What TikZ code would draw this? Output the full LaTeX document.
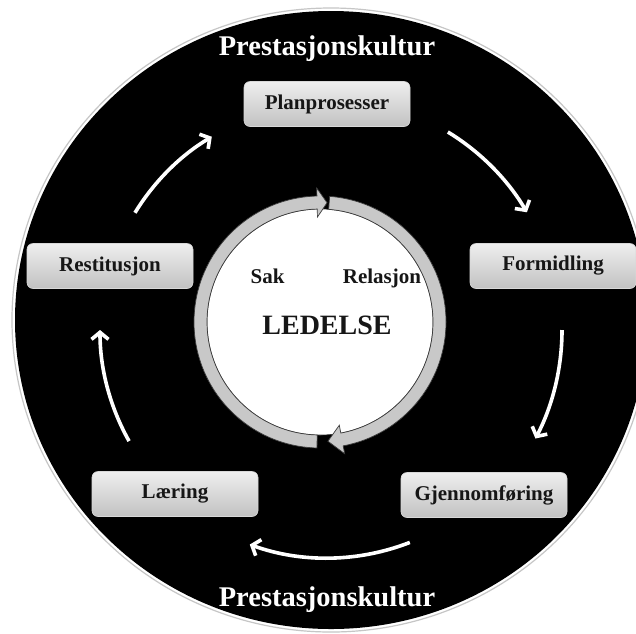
\documentclass[tikz,border=0pt]{standalone}
\usepackage{fontspec}
\setmainfont{Liberation Serif}
\usetikzlibrary{arrows.meta}
\definecolor{boxtop}{HTML}{EEEEEE}
\definecolor{boxbot}{HTML}{C2C2C2}
\definecolor{boxline}{HTML}{D8D8D8}
\definecolor{ringfill}{HTML}{C8C8C8}
\definecolor{ringline}{HTML}{3C3C3C}
\definecolor{labeltext}{HTML}{161616}
\begin{document}
\begin{tikzpicture}[x=1pt,y=-1pt,
  stage/.style={rectangle, rounded corners=6pt, minimum width=166pt, minimum height=45pt,
    top color=boxtop, bottom color=boxbot, draw=boxline, line width=0.6pt,
    text=labeltext, font=\fontsize{21}{24}\selectfont\bfseries, inner sep=0pt},
  culture/.style={text=white, font=\fontsize{28.5}{32}\selectfont\bfseries, inner sep=0pt, anchor=base},
  cycle arrow/.style={draw=white, line width=3.6pt, -{Straight Barb[length=7pt,width=17pt]}},
  ring half/.style={fill=ringfill, draw=ringline, line width=0.7pt, line join=miter},
  inner label/.style={text=labeltext, font=\fontsize{21}{24}\selectfont\bfseries, anchor=base, inner sep=0pt}
]
\useasboundingbox (0,0) rectangle (636,633);
\fill[white] (0,0) rectangle (636,633);

% black backdrop with a faint rim
\begin{scope}
  \clip (0,0) rectangle (636,633);
  \draw[gray!45, line width=1.2pt] (331,320) ellipse[x radius=319, y radius=312];
  \fill[black] (331,320) ellipse[x radius=316, y radius=309];
\end{scope}

% central ring made of two curved arrows
\begin{scope}[shift={(320,322)}]
  \filldraw[fill=white, draw=ringline, line width=0.6pt] (0,0) circle[radius=113];
  \draw[ring half] (91.4:126) arc[start angle=91.4, end angle=268.6, radius=126]
    -- (268.6:134) -- (273.4:119.5) -- (268.6:105) -- (268.6:113)
    arc[start angle=268.6, end angle=91.4, radius=113] -- cycle;
  \draw[ring half] (274.4:126) arc[start angle=274.4, end angle=439.4, radius=126]
    -- (439.4:134) -- (446.2:119.5) -- (439.4:105) -- (439.4:113)
    arc[start angle=439.4, end angle=274.4, radius=113] -- cycle;
\end{scope}

\node[inner label] (sak) at (267.5,283) {Sak};
\node[inner label] (rel) at (382,283) {Relasjon};
\node[inner label, font=\fontsize{28}{32}\selectfont\bfseries] (led) at (327,334) {LEDELSE};

% stages of the cycle
\node[stage] (plan) at (327,104) {Planprosesser};
\node[stage] (form) at (553,266) {Formidling};
\node[stage] (gjen) at (484,495) {Gjennomføring};
\node[stage] (laer) at (175,494) {Læring};
\node[stage] (rest) at (110,266) {Restitusjon};

% white arrows between the stages
\begin{scope}[shift={(327,330)}]
  \coordinate (a1) at (211.4:225);
  \coordinate (a2) at (301.4:232);
  \coordinate (a3) at (0:235);
  \coordinate (a4) at (68.7:228);
  \coordinate (a5) at (150.7:227);
  \draw[cycle arrow] (a1) arc[start angle=211.4, end angle=239.2, radius=225];
  \draw[cycle arrow] (a2) arc[start angle=301.4, end angle=329.5, radius=232];
  \draw[cycle arrow] (a3) arc[start angle=0, end angle=27.5, radius=235];
  \draw[cycle arrow] (a4) arc[start angle=68.7, end angle=109.8, radius=228];
  \draw[cycle arrow] (a5) arc[start angle=150.7, end angle=180, radius=227];
\end{scope}

\node[culture] (kulturtop) at (327,55) {Prestasjonskultur};
\node[culture] (kulturbot) at (327,606) {Prestasjonskultur};
\end{tikzpicture}
\end{document}
